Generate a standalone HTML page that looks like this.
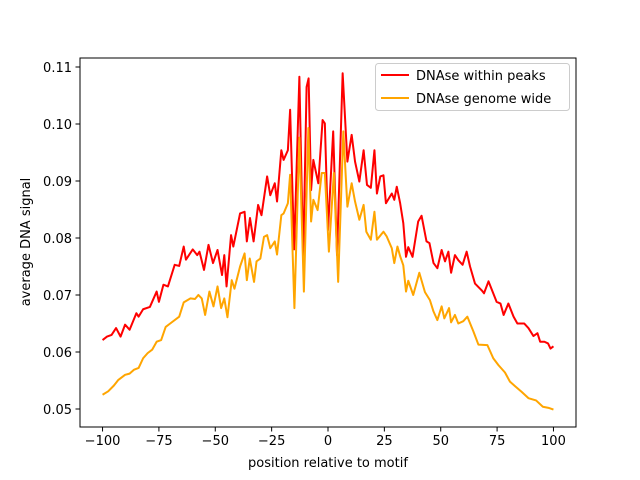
<!DOCTYPE html>
<html><head><meta charset="utf-8"><style>
html,body{margin:0;padding:0;background:#fff;}
svg{display:block;font-family:"DejaVu Sans","Liberation Sans",sans-serif;}
</style></head><body>
<svg id="chart" width="640" height="480" viewBox="0 0 640 480" xmlns="http://www.w3.org/2000/svg">
<rect x="0" y="0" width="640" height="480" fill="#fff"/>
<g id="plot"></g>
<rect x="80" y="58" width="496" height="369" fill="none" stroke="#000" stroke-width="1"/>
<g id="xticks"></g>
<g id="yticks"></g>
<text x="328" y="467" text-anchor="middle" font-size="13">position relative to motif</text>
<text transform="translate(30,242) rotate(-90)" text-anchor="middle" font-size="13">average DNA signal</text>
<g>
<rect x="375.5" y="63.5" width="194" height="47" rx="3" fill="#fff" fill-opacity="0.8" stroke="#ccc"/>
<line x1="381" y1="75" x2="409" y2="75" stroke="#ff0000" stroke-width="2"/>
<text x="416" y="80" font-size="13">DNAse within peaks</text>
<line x1="381" y1="98" x2="409" y2="98" stroke="#ffa500" stroke-width="2"/>
<text x="416" y="103" font-size="13">DNAse genome wide</text>
</g>
</svg>
<script>
const xTicks = [-100, -75, -50, -25, 0, 25, 50, 75, 100];
const yTicks = [0.05, 0.06, 0.07, 0.08, 0.09, 0.10, 0.11];
const yTickLabels = ["0.05", "0.06", "0.07", "0.08", "0.09", "0.10", "0.11"];
const peaksSeries = [[-100,0.0621],[-98,0.0627],[-96,0.063],[-94,0.0642],[-92,0.0627],[-90,0.0648],[-88,0.0639],[-85,0.0668],[-84,0.0662],[-82,0.0675],[-79,0.0679],[-76,0.0706],[-75,0.0688],[-73,0.0718],[-71,0.0715],[-68,0.0753],[-66,0.0751],[-64,0.0785],[-63,0.0762],[-60,0.078],[-58,0.077],[-57,0.0776],[-55,0.0744],[-53,0.0788],[-51,0.0756],[-49,0.0779],[-47,0.0735],[-46,0.077],[-45,0.0715],[-43,0.0805],[-42,0.0785],[-39,0.0843],[-37,0.0846],[-36,0.0794],[-34.6,0.0835],[-33,0.0794],[-31,0.0858],[-29.5,0.084],[-27,0.0908],[-25.6,0.0875],[-23.6,0.0896],[-22.6,0.0864],[-20.7,0.0954],[-19.7,0.0937],[-17.8,0.0954],[-16.8,0.1025],[-15,0.078],[-12.7,0.1083],[-11,0.076],[-9.5,0.1065],[-8.6,0.108],[-7.5,0.0884],[-6.5,0.0937],[-4.3,0.0896],[-2.4,0.1007],[-1.4,0.1001],[0,0.0814],[2.3,0.0987],[4,0.077],[6.5,0.1089],[8.6,0.0934],[10.5,0.0981],[12,0.0934],[13.9,0.0899],[15.8,0.0954],[17.3,0.0893],[19,0.0888],[20.6,0.0954],[21.7,0.0878],[23.2,0.0908],[24.6,0.091],[25.7,0.0861],[28.3,0.0878],[29.4,0.0867],[30.5,0.089],[32,0.0861],[33.4,0.0826],[34.6,0.0767],[35.6,0.0784],[37.5,0.0767],[40,0.0829],[41.5,0.0839],[43.7,0.0794],[45,0.0791],[46.8,0.0756],[48.5,0.0747],[50.4,0.0779],[51.9,0.0759],[53.4,0.0776],[54.6,0.0739],[56.3,0.077],[57.8,0.0761],[59.7,0.0753],[61.5,0.0776],[63,0.075],[65.2,0.072],[68.2,0.0708],[69.2,0.0703],[71.2,0.0724],[74.8,0.0688],[76.5,0.0685],[77.9,0.0665],[80,0.0685],[82.3,0.0662],[84,0.065],[87,0.065],[88.9,0.0642],[91.1,0.0628],[92.9,0.0633],[94.1,0.0618],[96,0.0618],[97.6,0.0615],[98.7,0.0606],[100,0.061]];
const genomeSeries = [[-100,0.0525],[-97.5,0.0531],[-95,0.0541],[-93,0.0551],[-90,0.056],[-88,0.0562],[-86,0.0569],[-84,0.0572],[-82,0.0589],[-80,0.0598],[-78,0.0604],[-76,0.0618],[-74,0.0621],[-72,0.0644],[-70,0.065],[-66,0.0662],[-64,0.0687],[-61,0.0694],[-59,0.0693],[-57.5,0.07],[-56,0.0694],[-54.5,0.0665],[-52.6,0.0706],[-50.8,0.068],[-49,0.0715],[-47.4,0.0677],[-46,0.0694],[-44.6,0.0661],[-42.7,0.0726],[-41.5,0.0711],[-39,0.075],[-37,0.0773],[-36,0.0726],[-34.7,0.0764],[-32.8,0.0723],[-31.7,0.0759],[-30,0.0764],[-28.4,0.0802],[-27,0.0805],[-25.6,0.0782],[-23.6,0.0794],[-22.6,0.0771],[-20.7,0.084],[-19.7,0.0843],[-17.8,0.0861],[-16.8,0.0911],[-14.9,0.0677],[-12.7,0.0976],[-10.7,0.0706],[-8.7,0.0993],[-7.5,0.0829],[-6.5,0.0867],[-4.6,0.0849],[-2.8,0.0914],[-1.4,0.0914],[0.4,0.0776],[2.6,0.0914],[4.5,0.0723],[6.8,0.0987],[8.6,0.0855],[10.5,0.0896],[12,0.0864],[13.9,0.0832],[15.8,0.0858],[17,0.0811],[19,0.0797],[20.6,0.0846],[21.7,0.0797],[24.6,0.0811],[26,0.0803],[28.3,0.0782],[29.4,0.0756],[30.8,0.0785],[32,0.0768],[33.4,0.0752],[34.6,0.0706],[35.6,0.0725],[37.8,0.07],[40.5,0.0739],[43,0.0705],[45.2,0.0691],[46.8,0.0671],[48.5,0.0656],[50.4,0.068],[51.6,0.0659],[53.7,0.0677],[54.6,0.0652],[56.3,0.0665],[57.8,0.065],[60,0.0654],[61.8,0.0662],[64.5,0.0636],[66.7,0.0613],[70.7,0.0612],[73.3,0.0589],[75.6,0.0577],[78.5,0.0564],[80.7,0.0548],[83,0.054],[85.9,0.053],[88.9,0.0519],[92.3,0.0515],[95.3,0.0504],[97.8,0.0502],[100,0.0499]];

const NS = "http://www.w3.org/2000/svg";
const X0 = 80, X1 = 576, Y0 = 58, Y1 = 427;
const xMin = -110, xMax = 110;
const yMin = 0.04684, yMax = 0.11158;
function xScale(v){ return X0 + (v - xMin) / (xMax - xMin) * (X1 - X0); }
function yScale(v){ return Y1 - (v - yMin) / (yMax - yMin) * (Y1 - Y0); }

const plot = document.getElementById('plot');
function drawLine(series, color, name){
  const p = document.createElementNS(NS, 'polyline');
  p.setAttribute('points', series.map(d => xScale(d[0]).toFixed(2) + ',' + yScale(d[1]).toFixed(2)).join(' '));
  p.setAttribute('fill', 'none');
  p.setAttribute('stroke', color);
  p.setAttribute('stroke-width', '2');
  p.setAttribute('stroke-linejoin', 'round');
  
  
  plot.appendChild(p);
}
drawLine(peaksSeries, '#ff0000', 'line-dnase-within-peaks');
drawLine(genomeSeries, '#ffa500', 'line-dnase-genome-wide');

const xg = document.getElementById('xticks');
xTicks.forEach(t => {
  const x = xScale(t);
  const l = document.createElementNS(NS, 'line');
  l.setAttribute('x1', x); l.setAttribute('x2', x);
  l.setAttribute('y1', Y1); l.setAttribute('y2', Y1 + 4.5);
  l.setAttribute('stroke', '#000');
  
  
  xg.appendChild(l);
  const tx = document.createElementNS(NS, 'text');
  tx.setAttribute('x', x); tx.setAttribute('y', Y1 + 18);
  tx.setAttribute('text-anchor', 'middle');
  tx.setAttribute('font-size', '13');
  tx.textContent = t < 0 ? '\u2212' + Math.abs(t) : String(t);
  
  
  xg.appendChild(tx);
});
const yg = document.getElementById('yticks');
yTicks.forEach((t, i) => {
  const y = yScale(t);
  const l = document.createElementNS(NS, 'line');
  l.setAttribute('x1', X0 - 4.5); l.setAttribute('x2', X0);
  l.setAttribute('y1', y); l.setAttribute('y2', y);
  l.setAttribute('stroke', '#000');
  
  
  yg.appendChild(l);
  const tx = document.createElementNS(NS, 'text');
  tx.setAttribute('x', X0 - 8); tx.setAttribute('y', y + 5);
  tx.setAttribute('text-anchor', 'end');
  tx.setAttribute('font-size', '13');
  tx.textContent = yTickLabels[i];
  
  
  yg.appendChild(tx);
});
</script>
</body></html>
